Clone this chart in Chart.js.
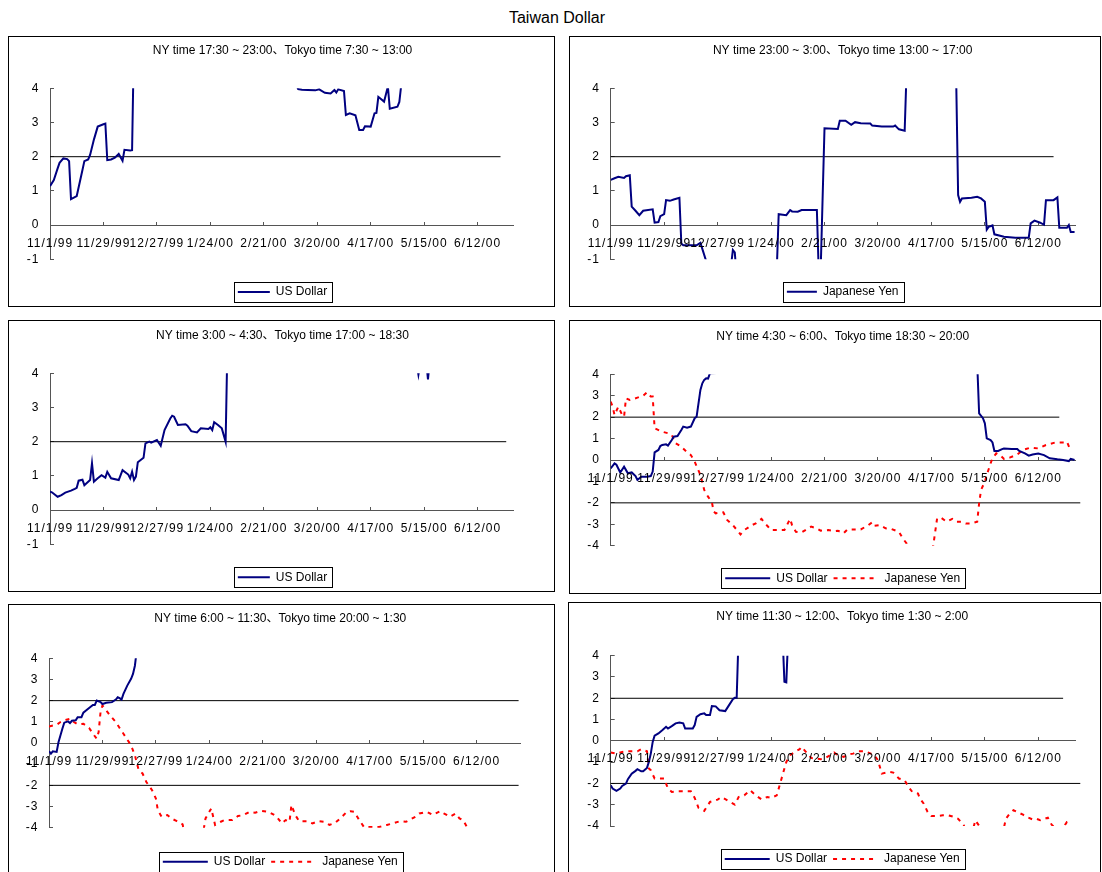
<!DOCTYPE html>
<html>
<head>
<meta charset="utf-8">
<title>Taiwan Dollar</title>
<script src="https://cdn.jsdelivr.net/npm/chart.js@4.4.0/dist/chart.umd.min.js"></script>
<style>
  body { margin: 0; width: 1102px; height: 872px; background: #fff; position: relative; overflow: hidden;
         font-family: 'Liberation Sans', Arial, 'Noto Sans CJK JP', sans-serif; }
  #pageTitle { position: absolute; left: 457px; width: 200px; top: 9px; line-height: 18px;
               text-align: center; font-size: 16px; color: #000; }
  .box { position: absolute; border: 1px solid #000; box-sizing: border-box; }
  canvas { position: absolute; }
</style>
</head>
<body>
<div id="pageTitle">Taiwan Dollar</div>
<script>
// x values are days counted from 11/1/99
var dayTicks = [0, 28, 56, 84, 112, 140, 168, 196, 224];
var tickLabels = ["11/1/99", "11/29/99", "12/27/99", "1/24/00", "2/21/00", "3/20/00", "4/17/00", "5/15/00", "6/12/00"];
var seriesNames = ["US Dollar", "Japanese Yen"];
var panelTitles = [
  "NY time 17:30 ~ 23:00、Tokyo time 7:30 ~ 13:00",
  "NY time 23:00 ~ 3:00、Tokyo time 13:00 ~ 17:00",
  "NY time 3:00 ~ 4:30、Tokyo time 17:00 ~ 18:30",
  "NY time 4:30 ~ 6:00、Tokyo time 18:30 ~ 20:00",
  "NY time 6:00 ~ 11:30、Tokyo time 20:00 ~ 1:30",
  "NY time 11:30 ~ 12:00、Tokyo time 1:30 ~ 2:00"
];

// [day, value]  (values beyond the axis range are cut off by the plot area)
var usdP1 = [[0,1.14],[2,1.32],[4,1.66],[5,1.82],[7,1.95],[9,1.93],[10,1.87],[11,0.76],[14,0.85],[17,1.61],[18,1.87],[20,1.92],[21,2.05],[23,2.50],[25,2.88],[28,2.95],[29,2.97],[30,1.90],[32,1.92],[34,1.97],[36,2.08],[38,1.88],[39,2.20],[42,2.18],[43,2.19],[44,5.5],[129,4.10],[130,3.98],[132,3.96],[135,3.95],[139,3.94],[141,3.97],[144,3.87],[147,3.85],[149,3.95],[150,3.88],[151,3.97],[154,3.92],[155,3.22],[157,3.27],[160,3.21],[162,2.78],[164,2.78],[165,2.89],[168,2.88],[170,3.27],[171,3.28],[172,3.75],[175,3.61],[177,4.05],[178,3.40],[182,3.46],[183,3.60],[184,4.10]];

var yenP2 = [[0,1.32],[2,1.37],[4,1.41],[7,1.38],[8,1.43],[10,1.46],[11,0.54],[13,0.42],[15,0.29],[17,0.42],[22,0.46],[23,0.07],[25,0.09],[26,0.26],[28,0.32],[29,0.73],[31,0.71],[33,0.75],[36,0.80],[37,-0.54],[38,-0.59],[45,-0.59],[47,-0.52],[50,-1.05],[51,-1.6],[63,-1.2],[64,-0.73],[65,-0.80],[66,-1.5],[87,-1.3],[88,0.32],[92,0.29],[94,0.44],[95,0.40],[98,0.39],[100,0.44],[108,0.44],[109,-1.4],[110,-1.3],[112,2.83],[119,2.81],[120,3.05],[123,3.05],[126,2.93],[128,3.01],[131,2.98],[136,2.97],[137,2.91],[142,2.88],[148,2.88],[149,2.91],[151,2.80],[154,2.76],[155,4.5],[181,4.2],[182,0.88],[183,0.68],[184,0.78],[189,0.80],[192,0.83],[194,0.78],[196,0.68],[197,-0.13],[198,-0.05],[200,-0.01],[201,-0.27],[204,-0.31],[206,-0.34],[212,-0.37],[219,-0.37],[220,0.05],[222,0.13],[225,0.07],[227,0.01],[228,0.73],[232,0.73],[234,0.81],[235,-0.08],[239,-0.08],[240,0],[241,-0.2],[243,-0.2]];

var usdP3 = [[0,0.54],[1,0.52],[4,0.39],[6,0.44],[8,0.51],[11,0.57],[13,0.62],[14,0.65],[15,0.86],[17,0.89],[18,0.73],[21,0.88],[22,1.37],[23,0.83],[25,0.93],[27,1.02],[29,0.95],[30,1.12],[32,0.93],[36,0.88],[38,1.17],[41,1.04],[42,0.93],[43,1.12],[44,0.88],[45,0.98],[46,1.40],[49,1.53],[50,1.95],[52,2.00],[53,1.97],[56,2.05],[58,1.88],[60,2.34],[63,2.68],[64,2.76],[65,2.73],[67,2.49],[71,2.51],[72,2.47],[74,2.31],[77,2.27],[79,2.39],[83,2.37],[84,2.42],[85,2.34],[86,2.57],[88,2.49],[90,2.39],[92,2.00],[93,5.0],[192,4.3],[193,3.96],[194,4.3],[197,4.4],[198,3.82],[199,4.4]];

var usdP4 = [[0,-0.39],[2,-0.16],[3,-0.22],[5,-0.58],[7,-0.31],[9,-0.62],[11,-0.58],[13,-0.75],[14,-0.93],[16,-0.78],[19,-0.78],[21,-0.75],[22,-0.54],[23,0.36],[25,0.47],[26,0.65],[27,0.70],[29,0.73],[30,0.67],[32,0.93],[33,1.09],[35,1.12],[37,1.40],[38,1.56],[40,1.51],[42,1.56],[44,1.95],[45,2.02],[47,3.27],[48,3.58],[49,3.74],[50,3.81],[51,3.80],[52,4.05],[192,4.5],[193,2.18],[195,1.95],[196,1.71],[197,1.01],[199,0.93],[200,0.82],[201,0.42],[203,0.42],[205,0.51],[206,0.54],[210,0.51],[213,0.51],[214,0.42],[217,0.31],[219,0.20],[221,0.26],[224,0.30],[227,0.23],[230,0.08],[234,0.03],[237,0],[240,-0.05],[241,0.05],[243,0]];
var yenP4 = [[0,2.72],[1,2.49],[2,2.10],[4,2.49],[6,2.10],[7,2.02],[8,2.88],[10,2.80],[12,2.85],[14,2.91],[17,3.00],[19,3.16],[21,2.96],[22,2.96],[23,1.48],[27,1.32],[30,1.25],[32,1.17],[34,0.78],[37,0.62],[40,0.36],[42,0.23],[44,-0.08],[47,-0.70],[49,-1.40],[51,-1.71],[53,-1.98],[54,-2.41],[55,-2.49],[59,-2.44],[61,-2.80],[64,-3.04],[68,-3.47],[70,-3.27],[74,-3.04],[76,-2.96],[79,-2.75],[82,-3.07],[84,-3.27],[88,-3.27],[91,-3.27],[94,-2.75],[95,-3.04],[97,-3.35],[100,-3.38],[103,-3.22],[105,-3.11],[108,-3.19],[110,-3.30],[114,-3.27],[117,-3.32],[119,-3.30],[122,-3.42],[124,-3.24],[127,-3.24],[131,-3.24],[135,-3.04],[137,-2.91],[138,-3.07],[141,-3.04],[144,-3.19],[147,-3.22],[151,-3.35],[153,-3.66],[155,-3.89],[156,-4.4],[168,-4.5],[169,-3.97],[171,-2.72],[173,-2.69],[176,-2.88],[179,-2.75],[181,-2.88],[184,-2.88],[186,-2.96],[189,-2.96],[192,-2.88],[193,-2.02],[194,-1.40],[196,-1.01],[197,-0.70],[199,-0.16],[200,0.08],[202,0.31],[204,0.23],[206,0.05],[209,0.11],[213,0.26],[216,0.47],[220,0.58],[224,0.54],[228,0.70],[233,0.82],[237,0.82],[239,0.86],[241,0.42]];

var usdP5 = [[0,-0.39],[1,-0.50],[2,-0.39],[4,-0.42],[5,0.05],[7,0.67],[8,0.96],[10,1.02],[11,0.94],[12,1.05],[14,1.07],[15,1.22],[17,1.22],[18,1.43],[21,1.65],[23,1.80],[24,1.80],[25,2.00],[27,1.93],[28,1.84],[30,1.90],[33,1.93],[35,2.05],[36,2.16],[37,2.12],[38,2.05],[39,2.32],[41,2.71],[43,3.03],[44,3.26],[45,3.65],[46,4.4]];
var yenP5 = [[0,0.78],[2,0.83],[4,0.86],[6,0.99],[8,1.07],[11,1.15],[13,0.99],[15,0.88],[18,0.91],[21,0.71],[23,0.44],[25,0.20],[26,0.52],[27,1.46],[28,1.77],[30,1.54],[32,1.30],[35,0.99],[37,0.71],[39,0.44],[41,0.16],[43,-0.11],[45,-0.58],[47,-1.29],[49,-1.44],[51,-1.84],[54,-2.23],[56,-2.62],[57,-3.17],[59,-3.48],[62,-3.40],[64,-3.56],[67,-3.69],[70,-3.84],[71,-4.3],[80,-4.4],[81,-4.1],[82,-3.56],[85,-3.09],[87,-3.87],[90,-3.72],[92,-3.64],[96,-3.64],[99,-3.45],[102,-3.40],[105,-3.25],[108,-3.29],[111,-3.20],[115,-3.25],[119,-3.45],[122,-3.80],[124,-3.64],[126,-3.72],[127,-2.93],[129,-3.40],[131,-3.69],[135,-3.69],[138,-3.80],[141,-3.69],[144,-3.72],[147,-3.87],[150,-3.76],[153,-3.53],[156,-3.25],[158,-3.22],[160,-3.25],[162,-3.56],[165,-3.97],[170,-3.97],[173,-3.97],[177,-3.87],[180,-3.80],[184,-3.69],[187,-3.72],[192,-3.48],[194,-3.33],[198,-3.25],[201,-3.40],[205,-3.22],[207,-3.33],[210,-3.48],[213,-3.33],[215,-3.56],[217,-3.64],[219,-3.98],[220,-4.4]];

var usdP6 = [[0,-2.09],[1,-2.24],[3,-2.35],[5,-2.24],[6,-2.12],[8,-2.01],[9,-1.80],[11,-1.54],[13,-1.41],[14,-1.33],[16,-1.43],[17,-1.43],[19,-1.27],[20,-0.99],[21,-0.60],[22,-0.05],[23,0.24],[25,0.35],[27,0.50],[29,0.66],[30,0.58],[32,0.69],[34,0.82],[36,0.86],[38,0.82],[39,0.58],[43,0.58],[44,0.74],[45,1.13],[47,1.25],[49,1.29],[50,1.21],[52,1.21],[53,1.63],[55,1.62],[57,1.44],[60,1.40],[62,1.68],[64,1.96],[65,2.02],[66,2.02],[67,5.0],[90,5.0],[91,2.78],[92,2.75],[93,5.0]];
var yenP6 = [[0,-0.55],[3,-0.60],[6,-0.52],[8,-0.49],[11,-0.49],[14,-0.49],[16,-0.39],[19,-0.49],[20,-1.30],[21,-1.38],[23,-1.77],[28,-1.77],[30,-2.24],[32,-2.40],[35,-2.37],[42,-2.37],[44,-2.68],[46,-3.15],[49,-3.29],[52,-2.87],[56,-2.76],[58,-2.64],[62,-2.84],[65,-3.00],[67,-2.64],[70,-2.56],[73,-2.32],[76,-2.56],[79,-2.75],[82,-2.64],[84,-2.68],[87,-2.56],[89,-1.93],[91,-1.30],[92,-0.99],[94,-0.67],[97,-0.49],[99,-0.39],[100,-0.28],[102,-0.49],[105,-0.80],[107,-0.83],[110,-0.86],[112,-0.83],[115,-0.67],[117,-0.55],[119,-0.67],[122,-0.75],[125,-0.63],[127,-0.60],[130,-0.49],[133,-0.49],[135,-0.55],[138,-0.67],[140,-0.91],[142,-1.54],[146,-1.46],[148,-1.49],[151,-1.77],[154,-1.85],[156,-2.16],[158,-2.40],[161,-2.48],[162,-2.71],[164,-2.95],[166,-3.34],[168,-3.53],[171,-3.53],[174,-3.50],[177,-3.50],[180,-3.58],[182,-3.66],[185,-3.97],[186,-4.3],[190,-4.1],[191,-3.73],[193,-3.99],[194,-4.4],[205,-4.5],[207,-3.66],[209,-3.42],[211,-3.26],[213,-3.34],[216,-3.47],[218,-3.58],[221,-3.69],[223,-3.66],[225,-3.73],[229,-3.61],[231,-3.94],[233,-4.1],[234,-4.4],[237,-4.3],[238,-3.95],[239,-3.81],[241,-3.78]];

// reference levels: [level, last day]
var refP1 = [[2, 236]];
var refP2 = [[2, 232]];
var refP3 = [[2, 239]];
var refP4 = [[2, 235], [-2, 246]];
var refP5 = [[2, 246], [-2, 246]];
var refP6 = [[2, 237], [-2, 246]];

var FONT = "'Liberation Sans', Arial, 'Noto Sans CJK JP', sans-serif";
Chart.defaults.font.family = FONT;
Chart.defaults.color = "#000";

var lineStyles = [
  { color: "#000080", dash: [] },
  { color: "#ff0000", dash: [4, 5] }
];

// page layout of each panel: box, plot area [left, right, top, bottom], title / legend centre
var panels = [
  { title: panelTitles[0], series: [[seriesNames[0], usdP1]], refs: refP1, yMin: -1,
    box: [8, 36, 555, 307], plot: [50, 513.3, 88.3, 259.3], titleY: 50.7, legendY: 292, shift: 1, sample: 32 },
  { title: panelTitles[1], series: [[seriesNames[1], yenP2]], refs: refP2, yMin: -1,
    box: [569, 36, 1101, 307], plot: [610.7, 1075.7, 88.3, 259.3], titleY: 50.3, legendY: 291.7, shift: 7.7, sample: 30 },
  { title: panelTitles[2], series: [[seriesNames[0], usdP3]], refs: refP3, yMin: -1,
    box: [8, 320, 555, 592], plot: [50, 513, 373.3, 544.3], titleY: 335.7, legendY: 577.2, shift: 1, sample: 32 },
  { title: panelTitles[3], series: [[seriesNames[0], usdP4], [seriesNames[1], yenP4]], refs: refP4, yMin: -4,
    box: [569, 320, 1101, 594], plot: [610.7, 1075.7, 374.3, 545.7], titleY: 336.7, legendY: 578.3, shift: 7.7, sample: 45 },
  { title: panelTitles[4], series: [[seriesNames[0], usdP5], [seriesNames[1], yenP5]], refs: refP5, yMin: -4,
    box: [8, 604, 555, 890], plot: [49, 520, 658.3, 827.7], titleY: 618.7, legendY: 861.7, shift: -1.2, sample: 45 },
  { title: panelTitles[5], series: [[seriesNames[0], usdP6], [seriesNames[1], yenP6]], refs: refP6, yMin: -4,
    box: [568, 602, 1101, 890], plot: [610.7, 1075.5, 655.7, 826], titleY: 616.3, legendY: 859, shift: 7.7, sample: 45 }
];

// tick labels get a little extra spacing, like the original
var tickSpacing = {
  id: "tickSpacing",
  beforeDraw: function (chart) { chart.ctx.letterSpacing = "0px"; },
  afterDatasetsDraw: function (chart) { chart.ctx.letterSpacing = "1px"; },
  afterDraw: function (chart) { chart.ctx.letterSpacing = "0px"; }
};

// frame around the legend
var legendFrame = {
  id: "legendFrame",
  afterDraw: function (chart) {
    var hb = chart.legend && chart.legend.legendHitBoxes;
    if (!hb || !hb.length) return;
    var first = hb[0], last = hb[hb.length - 1];
    var mid = first.top + first.height / 2;
    var x0 = Math.round(first.left - 4) + 0.5;
    var x1 = Math.round(last.left + last.width + 5) + 0.5;
    var ctx = chart.ctx;
    ctx.save();
    ctx.strokeStyle = "#000";
    ctx.lineWidth = 1;
    ctx.strokeRect(x0, Math.round(mid - 10) + 0.5, x1 - x0, 20);
    ctx.restore();
  }
};

// legend samples copy the line look of their dataset (dash included)
function legendLabels(chart) {
  var items = Chart.defaults.plugins.legend.labels.generateLabels(chart);
  items.forEach(function (it) {
    var ds = chart.data.datasets[it.datasetIndex];
    it.lineDash = ds.borderDash || [];
    it.strokeStyle = ds.borderColor;
    it.lineWidth = ds.borderWidth;
  });
  return items;
}

function makePanel(p) {
  var bx0 = p.box[0], by0 = p.box[1], bx1 = p.box[2], by1 = p.box[3];
  var L = p.plot[0], R = p.plot[1], T = p.plot[2], B = p.plot[3];

  var frame = document.createElement("div");
  frame.className = "box";
  frame.style.left = bx0 + "px";
  frame.style.top = by0 + "px";
  frame.style.width = (bx1 - bx0) + "px";
  frame.style.height = (by1 - by0) + "px";
  document.body.appendChild(frame);

  var cw = bx1 - bx0;
  var legTitleH = p.legendY - B - 12;
  var legendH = legTitleH + 12 + 6 + 10;
  var ch = Math.ceil(B - by0 + legendH);
  var padL = p.shift > 0 ? 2 * p.shift : 0;
  var padR = p.shift < 0 ? -2 * p.shift : 0;
  var padB = ch - (B - by0) - legendH;
  var titleTop = p.titleY - by0 - 7.2;
  var titleBottom = T - by0 - titleTop - 14.4;

  var cv = document.createElement("canvas");
  cv.width = cw;
  cv.height = ch;
  cv.style.left = bx0 + "px";
  cv.style.top = by0 + "px";
  cv.style.width = cw + "px";
  cv.style.height = ch + "px";
  document.body.appendChild(cv);

  var datasets = [];
  p.series.forEach(function (s, i) {
    datasets.push({
      label: s[0],
      data: s[1].map(function (d) { return { x: d[0], y: d[1] }; }),
      borderColor: lineStyles[i].color,
      backgroundColor: lineStyles[i].color,
      borderDash: lineStyles[i].dash,
      borderWidth: 2,
      pointRadius: 0,
      tension: 0,
      fill: false,
      xAxisID: "x",
      yAxisID: "y"
    });
  });
  p.refs.forEach(function (r) {
    datasets.push({
      label: "level " + r[0],
      isRef: true,
      data: [{ x: 0, y: r[0] }, { x: r[1], y: r[0] }],
      borderColor: "#000",
      borderWidth: 1,
      pointRadius: 0,
      clip: false,
      xAxisID: "x",
      yAxisID: "y"
    });
  });

  var tickFont = { family: FONT, size: 12 };
  var gridOpts = { drawOnChartArea: false, drawTicks: true, tickLength: -4, color: "#555", lineWidth: 1 };
  var borderOpts = { display: true, color: "#555", width: 1 };

  new Chart(cv, {
    type: "line",
    data: { datasets: datasets },
    options: {
      responsive: false,
      animation: false,
      devicePixelRatio: 1,
      layout: { padding: { left: padL, right: padR, top: 0, bottom: padB } },
      plugins: {
        title: {
          display: true,
          text: p.title,
          color: "#000",
          font: { family: FONT, size: 12, weight: "normal" },
          padding: { top: titleTop, bottom: titleBottom }
        },
        legend: {
          display: true,
          position: "bottom",
          title: { display: true, text: "", font: { size: 1 }, padding: { top: legTitleH - 1.2, bottom: 0 } },
          labels: {
            usePointStyle: true,
            pointStyle: "line",
            pointStyleWidth: p.sample,
            padding: 6,
            color: "#000",
            font: { family: FONT, size: 12 },
            generateLabels: legendLabels,
            filter: function (item, data) { return !data.datasets[item.datasetIndex].isRef; }
          }
        },
        tooltip: { enabled: false }
      },
      scales: {
        x: {
          type: "linear",
          position: { y: 0 },
          min: 0,
          max: (R - L) * 28 / 53.45,
          ticks: {
            stepSize: 28,
            includeBounds: false,
            autoSkip: false,
            maxRotation: 0,
            minRotation: 0,
            padding: 15,
            color: "#000",
            font: tickFont,
            z: 1,
            callback: function (v) {
              var k = dayTicks.indexOf(v);
              return k < 0 ? "" : tickLabels[k];
            }
          },
          grid: gridOpts,
          border: borderOpts
        },
        y: {
          position: "left",
          min: p.yMin,
          max: 4,
          ticks: { stepSize: 1, padding: 14.7, color: "#000", font: tickFont, z: 1 },
          grid: gridOpts,
          border: borderOpts,
          afterFit: function (s) { s.width = L - bx0 - padL; }
        },
        yR: {
          position: "right",
          grid: { display: false, drawTicks: false },
          border: { display: false },
          ticks: { display: false },
          afterFit: function (s) { s.width = bx1 - padR - R; }
        }
      }
    },
    plugins: [tickSpacing, legendFrame]
  });
}

panels.forEach(makePanel);
</script>
</body>
</html>
